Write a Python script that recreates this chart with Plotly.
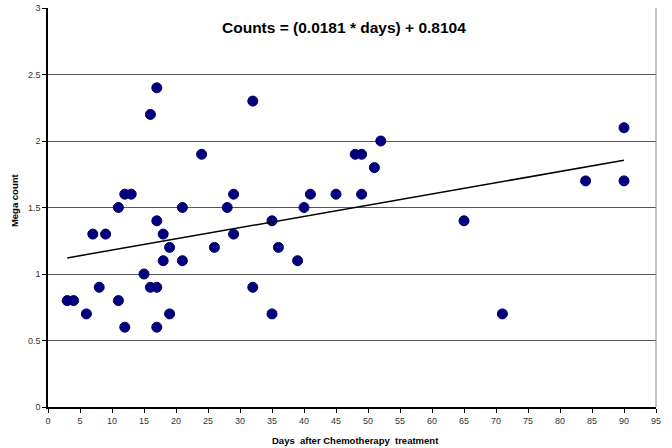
import numpy as np
import plotly.graph_objects as go

days = [3, 4, 6, 7, 8, 9, 11, 11, 12, 12, 13, 15, 16, 16, 17, 17, 17, 17, 18, 18,
        19, 19, 21, 21, 24, 26, 28, 29, 29, 32, 32, 35, 35, 36, 39, 40, 41, 45,
        48, 49, 49, 51, 52, 65, 71, 84, 90, 90]
counts = [0.8, 0.8, 0.7, 1.3, 0.9, 1.3, 1.5, 0.8, 0.6, 1.6, 1.6, 1.0, 0.9, 2.2, 0.9, 2.4, 1.4, 0.6, 1.3, 1.1,
          1.2, 0.7, 1.5, 1.1, 1.9, 1.2, 1.5, 1.3, 1.6, 2.3, 0.9, 1.4, 0.7, 1.2, 1.1, 1.5, 1.6, 1.6,
          1.9, 1.9, 1.6, 1.8, 2.0, 1.4, 0.7, 1.7, 2.1, 1.7]

x_ticks = list(range(0, 100, 5))
y_ticks = [0, 0.5, 1, 1.5, 2, 2.5, 3]
y_tick_text = ["0", "0.5", "1", "1.5", "2", "2.5", "3"]

title_text = "Counts = (0.0181 * days) + 0.8104"

# Linear trend line fitted to the data
slope, intercept = np.polyfit(days, counts, 1)
tx = np.array([min(days), max(days)])
ty = slope * tx + intercept

fig = go.Figure()
fig.add_trace(go.Scatter(
    x=days, y=counts, mode="markers",
    marker=dict(size=10, color="#000080", line=dict(width=1, color="#000060")),
    showlegend=False, hoverinfo="x+y"))
fig.add_trace(go.Scatter(
    x=tx, y=ty, mode="lines", line=dict(color="black", width=1.5),
    showlegend=False))

font_family = "Liberation Sans, Arial, sans-serif"

fig.update_layout(
    width=672, height=448,
    margin=dict(l=48, r=16, t=8, b=41, autoexpand=False),
    paper_bgcolor="white", plot_bgcolor="white",
    font=dict(family=font_family, size=9, color="#222"),
    xaxis=dict(range=[0, 95], tickvals=x_ticks, showgrid=False,
               showline=True, linecolor="black", linewidth=1.5,
               ticks="outside", ticklen=4, tickcolor="black",
               tickfont=dict(size=9, color="#333"), zeroline=False),
    yaxis=dict(range=[0, 3], tickvals=y_ticks, ticktext=y_tick_text,
               showgrid=True, gridcolor="#555", gridwidth=1,
               showline=True, linecolor="black", linewidth=1.5,
               ticks="outside", ticklen=4, tickcolor="black",
               tickfont=dict(size=9, color="#333"), zeroline=False),
    shapes=[dict(type="line", xref="paper", yref="paper", x0=1, x1=1, y0=0, y1=1,
                 line=dict(color="#888", width=1))],
    annotations=[
        dict(text="<b>" + title_text + "</b>", xref="paper", yref="paper",
             x=0.487, y=0.95, showarrow=False, font=dict(size=15.5, color="black"),
             xanchor="center", yanchor="middle"),
        dict(text="<b>Days  after Chemotherapy  treatment</b>", xref="paper", yref="paper",
             x=0.505, y=-0.085, showarrow=False, font=dict(size=9.5, color="black"),
             xanchor="center", yanchor="middle"),
        dict(text="<b>Mega count</b>", xref="paper", yref="paper",
             x=-0.054, y=0.519, showarrow=False, textangle=-90,
             font=dict(size=9.5, color="black"), xanchor="center", yanchor="middle"),
    ],
)

fig.write_html("out.html", config={"displayModeBar": False},
               post_script="document.body.style.margin='0';document.body.style.padding='0';")
